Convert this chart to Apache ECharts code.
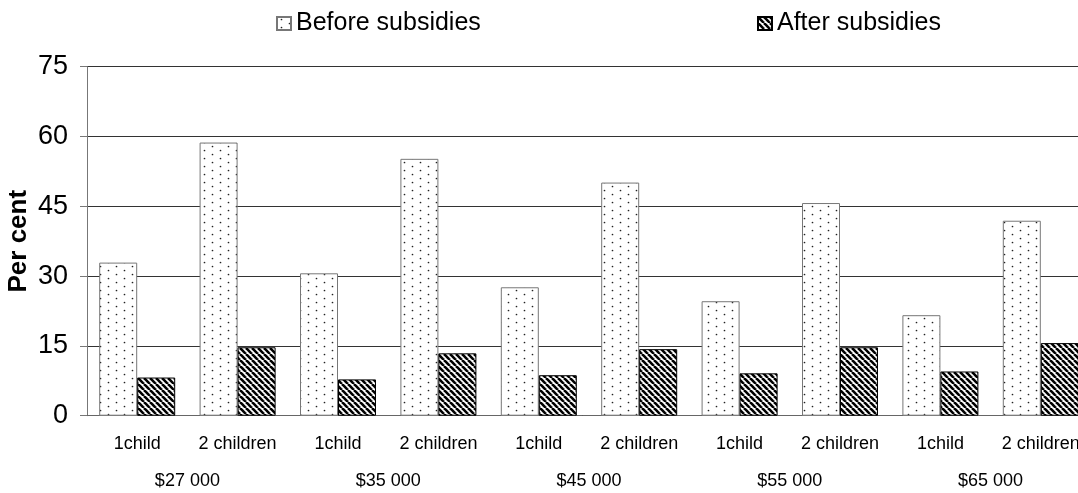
<!DOCTYPE html>
<html>
<head>
<meta charset="utf-8">
<script src="https://cdn.jsdelivr.net/npm/echarts@6/dist/echarts.min.js"></script>
<style>
html,body{margin:0;padding:0;background:#fff;}
#chart{width:1078px;height:493px;}
</style>
</head>
<body>
<div id="chart"></div>
<script>
const childLabels = ['1child','2 children','1child','2 children','1child','2 children','1child','2 children','1child','2 children'];
const incomes = ['$27 000','$35 000','$45 000','$55 000','$65 000'];
const beforeSubsidies = [32.9, 58.7, 30.6, 55.2, 27.6, 50.1, 24.6, 45.7, 21.6, 41.9];
const afterSubsidies = [8.2, 14.7, 7.8, 13.4, 8.7, 14.3, 9.1, 14.7, 9.5, 15.6];
const yTicks = {min: 0, max: 75, interval: 15};

function dotPattern() {
  const c = document.createElement('canvas');
  c.width = 16; c.height = 8;
  const g = c.getContext('2d');
  g.fillStyle = '#fff'; g.fillRect(0, 0, 16, 8);
  g.fillStyle = '#222';
  g.beginPath(); g.arc(4.5, 2.5, 0.85, 0, Math.PI * 2); g.fill();
  g.beginPath(); g.arc(12.5, 6.5, 0.85, 0, Math.PI * 2); g.fill();
  return c;
}
function hatchPattern() {
  const s = 6;
  const c = document.createElement('canvas');
  c.width = s; c.height = s;
  const g = c.getContext('2d');
  g.fillStyle = '#fff'; g.fillRect(0, 0, s, s);
  g.strokeStyle = '#000'; g.lineWidth = 2.6;
  for (const o of [-s, 0, s]) {
    g.beginPath(); g.moveTo(o, 0); g.lineTo(o + s, s); g.stroke();
  }
  return c;
}

const font = 'Liberation Sans, Arial, sans-serif';
const chart = echarts.init(document.getElementById('chart'), null, {renderer: 'canvas'});
const legendBase = {
  orient: 'horizontal', top: 11, padding: 0, itemWidth: 14, itemHeight: 13, icon: 'rect',
  textStyle: {fontFamily: font, fontSize: 25, color: '#000'}, selectedMode: false
};
chart.setOption({
  animation: false,
  backgroundColor: '#fff',
  legend: [
    Object.assign({}, legendBase, {left: 276, data: ['Before subsidies']}),
    Object.assign({}, legendBase, {left: 757, data: ['After subsidies']})
  ],
  grid: {left: 87, right: -13, top: 66.7, bottom: 77.3, containLabel: false, outerBoundsMode: 'none'},
  xAxis: [
    {
      type: 'category', data: childLabels, position: 'bottom',
      axisLine: {show: true, lineStyle: {color: '#666', width: 1}},
      axisTick: {show: false},
      axisLabel: {interval: 0, margin: 19, fontFamily: font, fontSize: 18, color: '#000'},
      splitLine: {show: false}
    },
    {
      type: 'category', data: incomes, position: 'bottom', gridIndex: 0,
      axisLine: {show: false}, axisTick: {show: false},
      axisLabel: {interval: 0, margin: 56, fontFamily: font, fontSize: 18, color: '#000'},
      splitLine: {show: false}
    }
  ],
  yAxis: {
    type: 'value', min: yTicks.min, max: yTicks.max, interval: yTicks.interval,
    name: 'Per cent', nameLocation: 'middle', nameGap: 55, nameMoveOverlap: false,
    nameTextStyle: {fontFamily: font, fontSize: 26, fontWeight: 'bold', color: '#000'},
    axisLine: {show: true, lineStyle: {color: '#777', width: 1}},
    axisTick: {show: true, inside: false, length: 7, lineStyle: {color: '#777'}},
    axisLabel: {margin: 19, fontFamily: font, fontSize: 27, color: '#000'},
    splitLine: {show: true, lineStyle: {color: '#333', width: 1}}
  },
  series: [
    {
      name: 'Before subsidies', type: 'bar', xAxisIndex: 0, data: beforeSubsidies,
      barWidth: 38, barGap: '0%',
      itemStyle: {color: {image: dotPattern(), repeat: 'repeat'}, borderColor: '#777', borderWidth: 1},
      emphasis: {disabled: true}
    },
    {
      name: 'After subsidies', type: 'bar', xAxisIndex: 0, data: afterSubsidies,
      barWidth: 38, barGap: '0%',
      itemStyle: {color: {image: hatchPattern(), repeat: 'repeat'}, borderColor: '#000', borderWidth: 1},
      emphasis: {disabled: true}
    }
  ]
});
</script>
</body>
</html>
